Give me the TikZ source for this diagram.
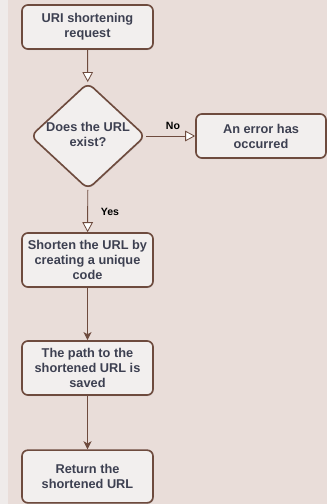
\documentclass[tikz,border=0pt]{standalone}
\usepackage{fontspec}
\setmainfont{Liberation Sans}
\usetikzlibrary{shapes.geometric,arrows.meta,shadows}

\definecolor{bgColor}{RGB}{233,221,217}
\definecolor{stripColor}{RGB}{239,235,234}
\definecolor{boxColor}{RGB}{242,239,238}
\definecolor{edgeColor}{RGB}{110,75,62}
\definecolor{textColor}{RGB}{61,64,81}

\tikzset{
  stepbox/.style={draw=edgeColor, line width=1.4pt, fill=boxColor, rounded corners=5pt,
    minimum width=3.93cm, inner sep=0pt, align=center, text=textColor,
    font=\bfseries\fontsize{10.9}{12.9}\selectfont,
    drop shadow={shadow xshift=0.6pt, shadow yshift=-0.9pt, opacity=0.25}},
  decision/.style={diamond, draw=edgeColor, line width=1.4pt, fill=boxColor,
    minimum width=3.45cm, minimum height=3.2cm, inner sep=0pt, rounded corners=6pt,
    drop shadow={shadow xshift=0.6pt, shadow yshift=-0.9pt, opacity=0.25}},
  txt/.style={align=center, text=textColor, font=\bfseries\fontsize{10.9}{12.9}\selectfont},
  lbl/.style={text=black, font=\bfseries\fontsize{9}{11}\selectfont},
  openarrow/.style={draw=edgeColor, line width=0.8pt,
    -{Triangle[fill=white, length=8.5pt, width=9pt, line width=0.7pt]}},
  fullarrow/.style={draw=edgeColor, line width=0.8pt,
    -{Stealth[length=7pt, width=7pt, inset=2pt]}}
}

\begin{document}
\begin{tikzpicture}[x=0.03cm,y=-0.03cm]
  \useasboundingbox (0,0) rectangle (327,504);
  % Background
  \fill[stripColor] (0,0) rectangle (8,504);
  \fill[bgColor] (8,0) rectangle (327,504);
  % Steps
  \node[stepbox, minimum height=1.32cm] (request) at (87.5,27) {URI shortening\\request};
  \node[decision] (exist) at (88,136) {};
  \node[txt] (existText) at (88,134) {Does the URL\\exist?};
  \node[stepbox, minimum height=1.32cm, minimum width=3.9cm] (error) at (261,136) {An error has\\occurred};
  \node[stepbox, minimum height=1.62cm] (shorten) at (87.5,260) {Shorten the URL by\\creating a unique\\code};
  \node[stepbox, minimum height=1.62cm] (saved) at (87.5,368) {The path to the\\shortened URL is\\saved};
  \node[stepbox, minimum height=1.58cm] (result) at (87.5,476.5) {Return the\\shortened URL};
  % Labels
  \node[lbl] (no) at (173,126) {No};
  \node[lbl] (yes) at (110,212) {Yes};
  % Connectors
  \draw[openarrow] (request) -- (exist);
  \draw[openarrow] (exist) -- (error);
  \draw[openarrow] (exist) -- (shorten);
  \draw[fullarrow] (shorten) -- (saved);
  \draw[fullarrow] (saved) -- (result);
\end{tikzpicture}
\end{document}
